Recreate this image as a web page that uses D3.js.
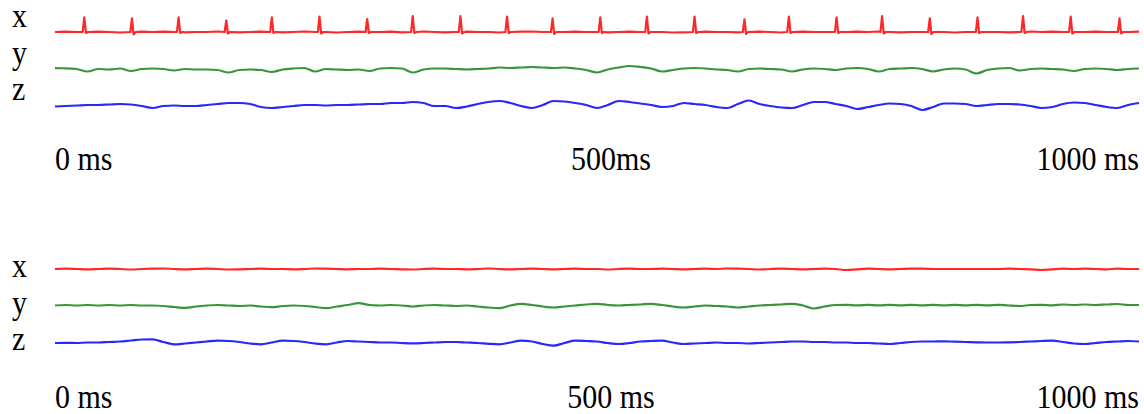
<!DOCTYPE html>
<html>
<head>
<meta charset="utf-8">
<script src="https://cdn.jsdelivr.net/npm/d3@7"></script>
<style>
  body { margin: 0; background: #fff; }
</style>
</head>
<body>
<svg></svg>
<script>
// axis names and tick labels
const axisNames = ["x", "y", "z"];
const tickMs = [0, 500, 1000];
const tickLabelsTop = ["0 ms", "500ms", "1000 ms"];
const tickLabelsBottom = ["0 ms", "500 ms", "1000 ms"];

// top recording, sampled every 10 ms (offset from the row baseline)
const topRedBase = [0,0.3,0,-0.3,0.3,0,-0.5,0,0.3,0,0.3,0,-0.3,0,0,0.5,0,-0.3,0,0.3,0,-0.3,0,0.5,0,0,-0.5,0,0.3,0,0,0.3,-0.3,0,0.5,0,-0.3,0,0.3,0,0,-0.5,0,0.3,0.5,0,-0.3,0,0.3,0,0,-0.3,0,0.3,0,0.5,0,-0.5,-0.3,0,0.3,0,0,-0.3,0,0.3,0,-0.5,0,0.3,0,0,-0.3,0,0.3,0,0.5,0,-0.3,0,0,0.3,0,-0.5,0,0.3,0,0,-0.3,0,0.5,0,0.3,0,-0.3,0,0.3,0,-0.3,0,0.3];
const spikeTimes = [27,71,114,158,200,244,288,330,374,417,459,503,546,590,636,677,721,763,807,851,893,937,982];
const spikeHeights = [14.7,13.7,14.7,11.5,14.7,15.3,13,16,16,15.3,13.7,14.7,15.3,15.3,12.7,15.3,14.7,16,13.7,14.7,16,15.3,13.7];
const spikeDips = [1,2.5,1,1.5,1,1.5,1,1,1.5,1,2,1,1.5,1,2,1,1,1.5,2,1,1,1.5,1.5];

const topGreen = [0.3,0.2,-0.5,-3,-0.5,-1,0,-2.5,-0.5,0,-0.5,-2,-0.5,-1,-1,-1.5,-4,-1.5,-1,-1.5,-3.5,-1,0,0.5,-3,-0.5,-1,-1.5,-1,-2.5,0,0.5,0,-4,-1,0,0,-0.5,-1,-0.5,0,1,0.5,1,1.5,1,0.5,1,0,-1.5,-4,-1,1,2.5,1.5,0,-3,-1.5,0,0.5,0,-1,-1.5,-3,-0.5,0,-0.5,-1,-3,-1,0,-0.5,-1.5,0,0.5,-0.5,-3,-0.5,0,0.5,-0.5,-3,-1,0,-1,-5,-1.5,0,0.5,-2,-0.5,0,-0.5,-1,-2.5,-0.5,0,-0.5,-1.5,-0.5,0];

const topBlue = [-1.5,-1,-0.5,0,0,0.5,1,0.5,-1,-3,-1,-0.5,-1,-1,0,1,2,2,1,-2,-3,-2,-1,0,0,-0.5,0,0,0.5,1,1,2,2,3,2,-1,-1,-3,-1.5,1,3,4,2,-1,-3,0,4,3.5,2,0,-3,0,4,3,1.5,0,-2,-1,2,1,0,-2,-3,1,4.5,1,-1,-2.5,-3,0,3,3,1,-1,-4,-2,0,1.5,1,-1,-5,-2,1.5,1.5,1,-1,0,1,1,0.5,-1,-3,-2,1,2.5,2,0,-2,-3,0,2];

// bottom recording, sampled every 10 ms
const bottomRed = [0,0.3,0,-0.3,0,0.3,0,-0.5,0,0.3,0.5,0,-0.3,0,0.3,0,-0.5,-0.3,0,0.3,0,0,-0.3,0,0.5,0.3,0,-0.3,0,0,0.3,0,-0.3,-0.5,0,0.3,0,0,-0.3,0,0.5,0,-0.3,0,0.3,0,-0.3,0,0.3,0,0,-0.5,0,0.3,0,0,0.3,0,-0.3,0,0.3,0,0.5,0.3,0,-0.5,0,0.3,0,-0.3,0,0.3,0,-1,-0.3,0.3,0,-0.3,0,0.3,0.3,0,0,0,0,0,0,0,0.3,0,-0.3,-1,-0.3,0.3,0,0.3,0,-0.3,0.3,0,0];
const bottomGreen = [0,0.5,0,0.5,0,0.5,0,0.5,0,0,-0.5,-1.5,-2.3,-1,0,0.5,0,-0.5,0,-1,-1.7,-0.5,0,-0.5,-1.5,-2.7,-1,0.5,2.3,0.5,0,0.5,0,-1,0,0.5,0,-0.5,0,-1,-2,-2.7,0,1.7,0.5,-1,-2,-1,0,1,1.7,0.5,0,0.5,1,1.7,0.5,-1,-2,-1,0,-0.5,-1,-2,-1,0,0.5,1,1.7,0,-3,-1,0.5,0.7,0.2,0.7,0.2,0.7,0.2,0.7,0.2,0.7,0.2,0.7,0.2,0.7,0.2,0.7,0,-0.5,0.5,0.7,0.2,1,0.5,1,0.5,1,1.5,0.5,0.5];
const bottomBlue = [-1,-0.8,-1,-0.5,-0.5,0,0.5,1.5,2.5,2.7,0,-2.3,-1.5,-0.5,0.5,1.3,1,0,-1.5,-2.3,-0.5,1.3,1,0,-1.5,-2.3,-0.5,1,0.5,0,-0.5,-0.5,-1,-1.3,-1,-0.5,0,0,-0.5,-1,-1.8,-2.3,-0.5,1.3,0.5,-2,-3.7,-1,1.3,1,0.5,-1,-2,-1,0.5,1,1.3,-0.5,-2,-1.5,-1,-0.5,-1,-1,-1.5,-1,-0.5,0,0.5,0.5,0,0,-0.5,-0.5,-1,-1,-1.5,-2,-1,0,0.5,0.5,0.7,0.3,0,-0.3,-0.5,-0.5,-0.3,0,0.5,1,1.3,0,-1.5,-2,-1,0,0.5,1,0.5];

const colors = ["#ff1010", "#228b22", "#1010ff"];
const font = "'Liberation Serif', 'Times New Roman', serif";

const w = 1144, h = 414;
const svg = d3.select("svg").attr("width", w).attr("height", h);

const xScale = d3.scaleLinear().domain([0, 1000]).range([55, 1139]);
const amp = d3.scaleLinear().domain([-20, 20]).range([20, -20]);

// turn an evenly sampled array into [ms, value] points
function sampled(arr) {
  const step = 1000 / (arr.length - 1);
  return arr.map((v, i) => [i * step, v]);
}

// red top trace: baseline samples plus the spikes
function withSpikes(base) {
  let pts = sampled(base).filter(p => !spikeTimes.some(t => p[0] > t - 3 && p[0] < t + 5));
  spikeTimes.forEach((t, i) => {
    pts.push([t - 1.5, 0], [t, spikeHeights[i]], [t + 1.5, -spikeDips[i]], [t + 3.5, 0]);
  });
  return pts.sort((a, b) => a[0] - b[0]);
}

const panels = [
  { series: [withSpikes(topRedBase), sampled(topGreen), sampled(topBlue)], spiky: true, rows: [32, 105], labelDy: -5, tickY: 170, ticks: tickLabelsTop },
  { series: [sampled(bottomRed), sampled(bottomGreen), sampled(bottomBlue)], spiky: false, rows: [269, 342], labelDy: 8, tickY: 408, ticks: tickLabelsBottom }
];

panels.forEach(p => {
  const rowScale = d3.scalePoint().domain(axisNames).range(p.rows);
  const g = svg.append("g");

  axisNames.forEach((name, i) => {
    const cy = rowScale(name);
    const line = d3.line()
      .x(d => xScale(d[0]))
      .y(d => cy + amp(d[1]))
      .curve(p.spiky && i == 0 ? d3.curveLinear : d3.curveMonotoneX);
    g.append("path")
      .datum(p.series[i])
      .attr("d", line)
      .attr("fill", "none")
      .attr("stroke", colors[i])
      .attr("stroke-width", 2.2)
      .attr("stroke-opacity", 0.9)
      .attr("stroke-linejoin", "round");

    // text in the original looks a little stretched vertically
    g.append("text")
      .attr("transform", `translate(12,${cy + p.labelDy}) scale(1,1.1)`)
      .attr("font-family", font)
      .attr("font-size", 30)
      .text(name);
  });

  const anchors = ["start", "middle", "end"];
  const shift = [0, 14, 0];
  g.selectAll(".tick")
    .data(tickMs)
    .enter()
    .append("text")
    .attr("class", "tick")
    .attr("transform", (d, i) => `translate(${xScale(d) + shift[i]},${p.tickY}) scale(1,1.1)`)
    .attr("text-anchor", (d, i) => anchors[i])
    .attr("font-family", font)
    .attr("font-size", 30)
    .text((d, i) => p.ticks[i]);
});
</script>
</body>
</html>
